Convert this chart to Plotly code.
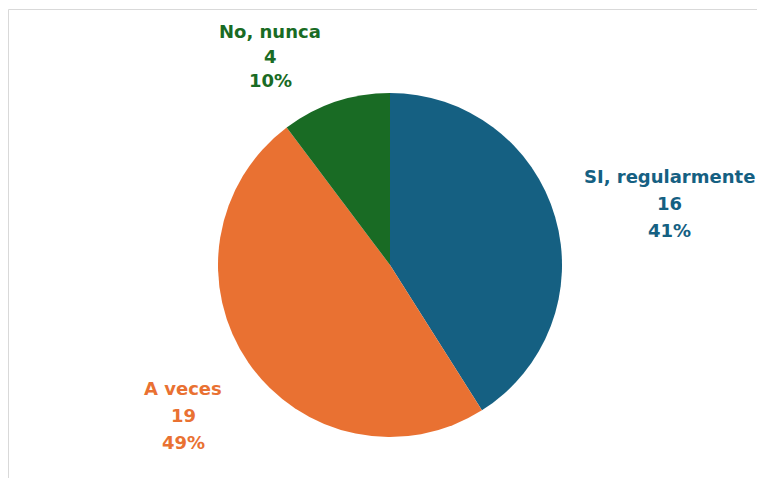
import plotly.graph_objects as go

labels = ["SI, regularmente", "A veces", "No, nunca"]
values = [16, 19, 4]
colors = ["#156082", "#E97132", "#196B24"]
# label anchor (screen pixel x, pixel y of middle line, line gap) for each category
label_pos = [(669, 203, 27), (183, 415, 27), (270, 56, 24)]

OFF = 8  # page body margin
W, H = 765 - OFF, 478 - OFF
cx, cy, r = 390 - OFF, 265 - OFF, 172

fig = go.Figure(go.Pie(
    labels=labels, values=values, sort=False, direction="clockwise", rotation=0,
    marker=dict(colors=colors, line=dict(width=0)),
    textinfo="none", hoverinfo="label+value+percent", showlegend=False,
    domain=dict(x=[(cx - r) / W, (cx + r) / W], y=[1 - (cy + r) / H, 1 - (cy - r) / H]),
))

total = sum(values)
annotations = []
for lab, val, col, (px, py, gap) in zip(labels, values, colors, label_pos):
    pct = round(100 * val / total)
    for k, line in enumerate([lab, str(val), f"{pct}%"]):
        annotations.append(dict(
            x=(px - OFF) / W, y=1 - (py - OFF + (k - 1) * gap) / H, xref="paper", yref="paper",
            text=f"<b>{line}</b>", showarrow=False, xanchor="center", yanchor="middle",
            font=dict(family="DejaVu Sans", size=18, color=col),
        ))

fig.update_layout(
    width=W, height=H, margin=dict(l=0, r=0, t=0, b=0),
    paper_bgcolor="white", plot_bgcolor="white",
    annotations=annotations,
    shapes=[dict(type="rect", xref="paper", yref="paper",
                 x0=0.5 / W, x1=(762.5 - OFF) / W, y0=-0.05, y1=1 - 1.5 / H,
                 line=dict(color="#D9D9D9", width=1), fillcolor="rgba(0,0,0,0)", layer="below")],
)

fig.write_html("out.html")
